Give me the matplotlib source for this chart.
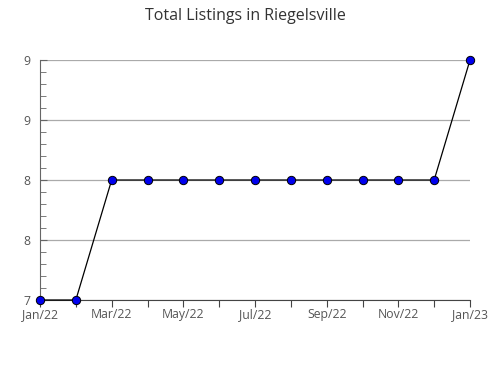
import matplotlib
matplotlib.use("Agg")
import matplotlib.pyplot as plt

plt.rcParams['font.family'] = ['Open Sans', 'DejaVu Sans']

months = ['Jan/22', 'Feb/22', 'Mar/22', 'Apr/22', 'May/22', 'Jun/22', 'Jul/22',
          'Aug/22', 'Sep/22', 'Oct/22', 'Nov/22', 'Dec/22', 'Jan/23']
listings = [7, 7, 8, 8, 8, 8, 8, 8, 8, 8, 8, 8, 9]
y_ticks = [7, 7.5, 8, 8.5, 9]
y_labels = ['7', '8', '8', '9', '9']

fig = plt.figure(figsize=(4.9, 3.8), dpi=100)
ax = fig.add_axes([40 / 490, 1 - 300 / 380, 430 / 490, 240 / 380])

x = list(range(len(months)))
ax.plot(x, listings, color='black', linewidth=0.9, marker='o', markersize=6,
        markerfacecolor='#0000ee', markeredgecolor='black', markeredgewidth=0.7,
        zorder=3, clip_on=False)

ax.set_xlim(0, len(months) - 1)
ax.set_ylim(7, 9)
ax.set_xticks(x)
ax.set_xticklabels([m if i % 2 == 0 else '' for i, m in enumerate(months)])
ax.set_yticks(y_ticks)
ax.set_yticklabels(y_labels)
ax.set_yticks([7 + 0.1 * i for i in range(21)], minor=True)

ax.grid(axis='y', color='#aaaaaa', linewidth=0.9)
ax.set_axisbelow(True)
for s in ['top', 'right']:
    ax.spines[s].set_visible(False)
ax.spines['left'].set_color('#666666')
ax.spines['bottom'].set_color('#444444')
ax.tick_params(axis='y', direction='in', length=5, color='#666666',
               labelsize=8.8, labelcolor='#555555', pad=7)
ax.tick_params(axis='y', which='minor', direction='in', length=4, color='#666666')
ax.tick_params(axis='x', direction='out', length=5, color='#444444',
               labelsize=8.8, labelcolor='#555555', pad=1)

fig.text(0.5, 1 - 16 / 380, 'Total Listings in Riegelsville', ha='center',
         va='center', fontsize=11.5, color='#333333')

fig.savefig('out.png', dpi=100)
